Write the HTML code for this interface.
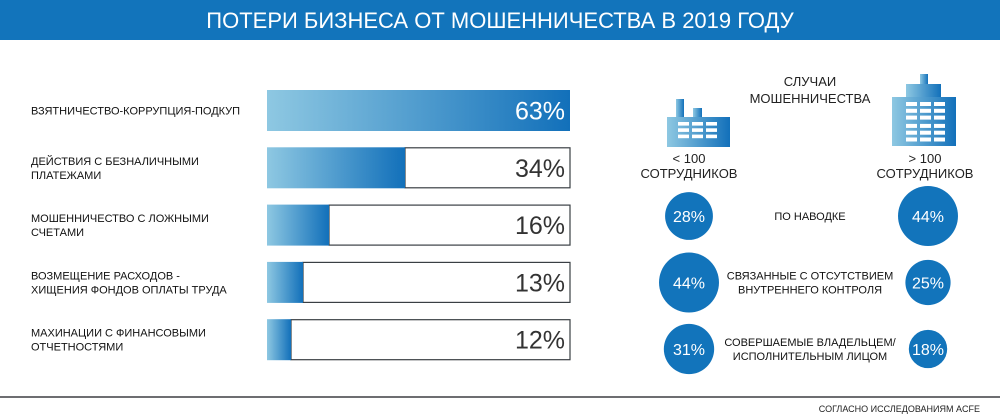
<!DOCTYPE html>
<html><head><meta charset="utf-8">
<style>
body{margin:0;width:1000px;height:418px;background:#fff;overflow:hidden;font-family:"Liberation Sans","Noto Sans CJK SC",sans-serif}
svg{display:block}
</style></head><body>
<svg id="chart" width="1000" height="418" viewBox="0 0 1000 418">
<defs>
<linearGradient id="g" x1="0" x2="1" y1="0" y2="0"><stop offset="0" stop-color="#8ec8e2"/><stop offset="1" stop-color="#1270ba"/></linearGradient>
</defs>
<rect x="0" y="0" width="1000" height="40" fill="#1274bb"/>
<text x="500" y="28" text-anchor="middle" fill="#fff" font-size="22">ПОТЕРИ БИЗНЕСА ОТ МОШЕННИЧЕСТВА В 2019 ГОДУ</text>
<g id="bars"></g>
<g id="icons">
 <g>
  <rect x="676" y="99" width="8" height="20" fill="url(#g)"/>
  <rect x="693" y="108" width="9" height="11" fill="url(#g)"/>
  <rect x="667" y="117" width="63" height="30" fill="url(#g)"/>
 </g>
 <g>
  <rect x="920" y="74" width="8" height="11" fill="url(#g)"/>
  <rect x="906" y="84" width="35" height="14" fill="url(#g)"/>
  <rect x="892" y="97" width="64" height="49" fill="url(#g)"/>
 </g>
 <g id="windows" fill="#fff"></g>
</g>
<text x="810" y="86" text-anchor="middle" font-size="13" fill="#222"><tspan x="810">СЛУЧАИ</tspan><tspan x="810" dy="17">МОШЕННИЧЕСТВА</tspan></text>
<text x="689" y="163" text-anchor="middle" font-size="13" fill="#222"><tspan x="689">&lt; 100</tspan><tspan x="689" dy="15">СОТРУДНИКОВ</tspan></text>
<text x="925" y="163" text-anchor="middle" font-size="13" fill="#222"><tspan x="925">&gt; 100</tspan><tspan x="925" dy="15">СОТРУДНИКОВ</tspan></text>
<g id="bubbles"></g>
<rect x="0" y="396" width="1000" height="2" fill="#6d6e71"/>
<text x="980" y="412" text-anchor="end" font-size="9" fill="#222">СОГЛАСНО ИССЛЕДОВАНИЯМ ACFE</text>
</svg>
<script>
const categories=[["ВЗЯТНИЧЕСТВО-КОРРУПЦИЯ-ПОДКУП"],["ДЕЙСТВИЯ С БЕЗНАЛИЧНЫМИ","ПЛАТЕЖАМИ"],["МОШЕННИЧЕСТВО С ЛОЖНЫМИ","СЧЕТАМИ"],["ВОЗМЕЩЕНИЕ РАСХОДОВ -","ХИЩЕНИЯ ФОНДОВ ОПЛАТЫ ТРУДА"],["МАХИНАЦИИ С ФИНАНСОВЫМИ","ОТЧЕТНОСТЯМИ"]];
const lossValues=[63,34,16,13,12];
const caseTypes=[["ПО НАВОДКЕ"],["СВЯЗАННЫЕ С ОТСУТСТВИЕМ","ВНУТРЕННЕГО КОНТРОЛЯ"],["СОВЕРШАЕМЫЕ ВЛАДЕЛЬЦЕМ/","ИСПОЛНИТЕЛЬНЫМ ЛИЦОМ"]];
const smallCompany=[28,44,31];
const largeCompany=[44,25,18];

const NS="http://www.w3.org/2000/svg";
function mk(t,a,p){const e=document.createElementNS(NS,t);for(const k in a)e.setAttribute(k,a[k]);p.appendChild(e);return e;}
const X0=267,W=303,BH=41;
const scaleDomain=[0,11.5,13,16,34,63];
const scaleRange=[0,18,36,62,138,303];
function xScale(v){
  if(v<=scaleDomain[0])return 0;
  for(let i=1;i<scaleDomain.length;i++){
    if(v<=scaleDomain[i]){const t=(v-scaleDomain[i-1])/(scaleDomain[i]-scaleDomain[i-1]);return scaleRange[i-1]+t*(scaleRange[i]-scaleRange[i-1]);}
  }
  return W;
}
const yBar=i=>90+i*57.3;
const bars=document.getElementById('bars');
lossValues.forEach((v,i)=>{
  const y=yBar(i);
  const lines=categories[i];
  const t=mk('text',{x:31,y:y+BH/2+4-(lines.length-1)*7,'font-size':11,fill:'#111'},bars);
  
  
  lines.forEach((l,j)=>{const s=mk('tspan',{x:31,dy:j?14:0},t);s.textContent=l;});
  const w=Math.min(W,xScale(v));
  if(w<W){const o=mk('rect',{x:X0+w,y:y+0.5,width:W-w,height:BH-1,fill:'#fff',stroke:'#3a3f44','stroke-width':1.2},bars);
    
    }
  const r=mk('rect',{x:X0,y:y,width:w,height:BH,fill:'url(#g)'},bars);
  
  
  const lbl=mk('text',{x:X0+W-5,y:y+BH/2+9,'text-anchor':'end','font-size':25,fill:w>=W?'#fff':'#333'},bars);
  
  
  lbl.textContent=v+'%';
});
const win=document.getElementById('windows');
for(let r=0;r<3;r++)for(let c=0;c<3;c++)mk('rect',{x:678+c*14,y:122+r*6.3,width:11,height:3.6},win);
for(let r=0;r<6;r++)for(let c=0;c<3;c++)mk('rect',{x:906+c*14,y:102+r*6.8+(r>2?1.5:0),width:11,height:4},win);
const rScale=v=>4.52*Math.sqrt(v);
const yRow=i=>216+i*66.5;
const bub=document.getElementById('bubbles');
caseTypes.forEach((lines,i)=>{
  const y=yRow(i);
  const t=mk('text',{x:810,y:y+4-(lines.length-1)*7,'text-anchor':'middle','font-size':11,fill:'#111'},bub);
  
  
  lines.forEach((l,j)=>{const s=mk('tspan',{x:810,dy:j?14:0},t);s.textContent=l;});
  [[689,smallCompany[i],'small-company-bubble'],[928,largeCompany[i],'large-company-bubble']].forEach(([cx,v,n])=>{
    const c=mk('circle',{cx:cx,cy:y,r:rScale(v),fill:'#1274bb'},bub);
    
    
    const tx=mk('text',{x:cx,y:y+6,'text-anchor':'middle','font-size':16,fill:'#fff'},bub);
    
    
    tx.textContent=v+'%';
  });
});
</script>
</body></html>
